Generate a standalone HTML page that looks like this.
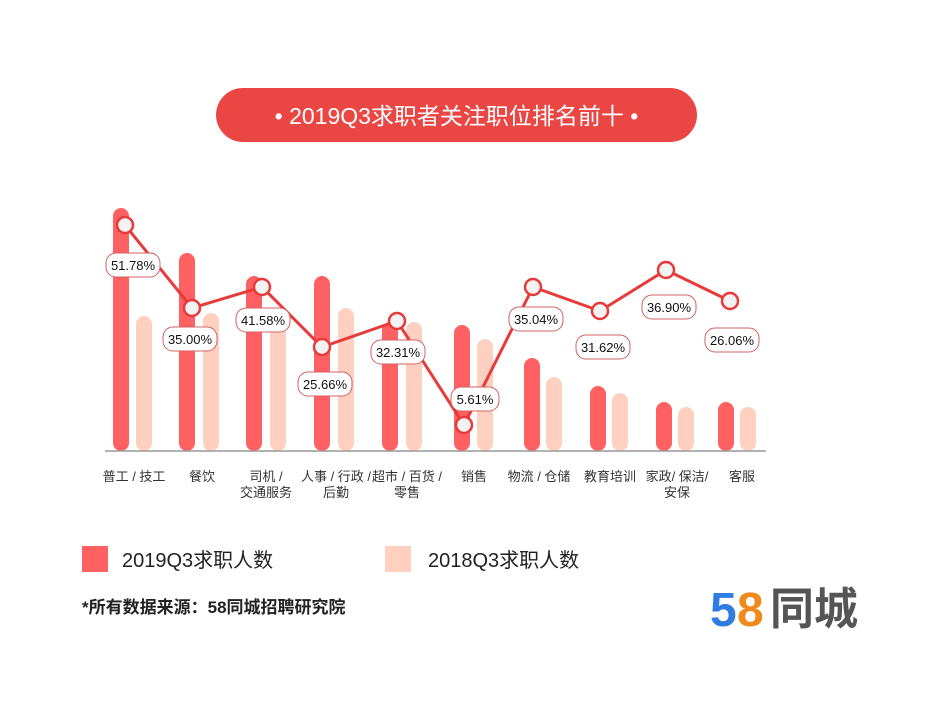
<!DOCTYPE html>
<html><head><meta charset="utf-8"><style>
body{margin:0;background:#fff;}
svg text{font-family:"Liberation Sans","Noto Sans CJK SC",sans-serif;}
</style></head><body>
<svg width="932" height="714" viewBox="0 0 932 714" xmlns="http://www.w3.org/2000/svg">
<rect width="932" height="714" fill="#fff"/>
<rect x="216" y="88" width="481" height="54" rx="27" fill="#ea4744"/>
<text x="456.5" y="124" font-size="23" fill="#fff" text-anchor="middle">•  2019Q3求职者关注职位排名前十  •</text>
<g stroke-linecap="round" stroke-width="16">
<g stroke="#ff6162">
<line x1="121" y1="216" x2="121" y2="443"/>
<line x1="187" y1="261" x2="187" y2="443"/>
<line x1="254" y1="284" x2="254" y2="443"/>
<line x1="322" y1="284" x2="322" y2="443"/>
<line x1="390" y1="330" x2="390" y2="443"/>
<line x1="462" y1="333" x2="462" y2="443"/>
<line x1="532" y1="366" x2="532" y2="443"/>
<line x1="598" y1="394" x2="598" y2="443"/>
<line x1="664" y1="410" x2="664" y2="443"/>
<line x1="726" y1="410" x2="726" y2="443"/>
</g>
<g stroke="#ffd0bf">
<line x1="144" y1="324" x2="144" y2="443"/>
<line x1="211" y1="321" x2="211" y2="443"/>
<line x1="278" y1="330" x2="278" y2="443"/>
<line x1="346" y1="316" x2="346" y2="443"/>
<line x1="414" y1="330" x2="414" y2="443"/>
<line x1="485" y1="347" x2="485" y2="443"/>
<line x1="554" y1="385" x2="554" y2="443"/>
<line x1="620" y1="401" x2="620" y2="443"/>
<line x1="686" y1="415" x2="686" y2="443"/>
<line x1="748" y1="415" x2="748" y2="443"/>
</g>
</g>
<line x1="105" y1="451" x2="766" y2="451" stroke="#999" stroke-width="1.5"/>
<polyline points="125,225 192,308 262,287 322,347 397,321 464,425 533,287 600,311 666,270 730,301" fill="none" stroke="#e83a3a" stroke-width="3"/>
<g fill="#f2f2f2" stroke="#e83a3a" stroke-width="2.5">
<circle cx="125" cy="225" r="8"/><circle cx="192" cy="308" r="8"/><circle cx="262" cy="287" r="8"/><circle cx="322" cy="347" r="8"/><circle cx="397" cy="321" r="8"/><circle cx="464" cy="425" r="8"/><circle cx="533" cy="287" r="8"/><circle cx="600" cy="311" r="8"/><circle cx="666" cy="270" r="8"/><circle cx="730" cy="301" r="8"/>
</g>
<g font-size="13" text-anchor="middle" fill="#111">
<g fill="#fff" stroke="#d06060" stroke-width="1">
<rect x="106" y="253" width="54" height="24" rx="10"/>
<rect x="163" y="327" width="54" height="24" rx="10"/>
<rect x="236" y="308" width="54" height="24" rx="10"/>
<rect x="298" y="372" width="54" height="24" rx="10"/>
<rect x="371" y="340" width="54" height="24" rx="10"/>
<rect x="451" y="387" width="48" height="24" rx="10"/>
<rect x="509" y="307" width="54" height="24" rx="10"/>
<rect x="576" y="335" width="54" height="24" rx="10"/>
<rect x="642" y="295" width="54" height="24" rx="10"/>
<rect x="705" y="328" width="54" height="24" rx="10"/>
</g>
<text x="133" y="270">51.78%</text>
<text x="190" y="344">35.00%</text>
<text x="263" y="325">41.58%</text>
<text x="325" y="389">25.66%</text>
<text x="398" y="357">32.31%</text>
<text x="475" y="404">5.61%</text>
<text x="536" y="324">35.04%</text>
<text x="603" y="352">31.62%</text>
<text x="669" y="312">36.90%</text>
<text x="732" y="345">26.06%</text>
</g>
<g font-size="13" text-anchor="middle" fill="#333">
<text x="134" y="481">普工 / 技工</text>
<text x="202" y="481">餐饮</text>
<text x="266" y="481">司机 /</text><text x="266" y="497">交通服务</text>
<text x="336" y="481">人事 / 行政 /</text><text x="336" y="497">后勤</text>
<text x="407" y="481">超市 / 百货 /</text><text x="407" y="497">零售</text>
<text x="474" y="481">销售</text>
<text x="539" y="481">物流 / 仓储</text>
<text x="610" y="481">教育培训</text>
<text x="677" y="481">家政/ 保洁/</text><text x="677" y="497">安保</text>
<text x="742" y="481">客服</text>
</g>
<rect x="82" y="546" width="26" height="26" fill="#ff6162"/>
<text x="122" y="567" font-size="20" fill="#222">2019Q3求职人数</text>
<rect x="385" y="546" width="26" height="26" fill="#ffd0bf"/>
<text x="428" y="567" font-size="20" fill="#222">2018Q3求职人数</text>
<text x="82" y="613" font-size="17" font-weight="bold" fill="#222">*所有数据来源：58同城招聘研究院</text>
<text x="710" y="626" font-size="48" font-weight="bold" fill="#2f7de1">5</text>
<text x="737" y="626" font-size="48" font-weight="bold" fill="#f08a1c">8</text>
<text x="770" y="624" font-size="44" font-weight="bold" fill="#555">同城</text>
</svg>
</body></html>
